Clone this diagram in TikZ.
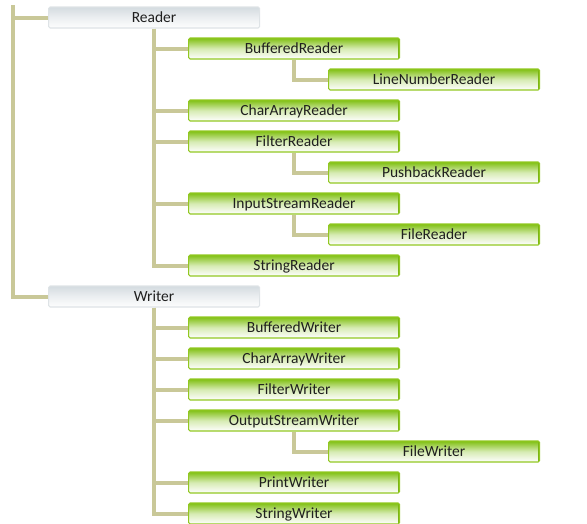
\documentclass[tikz,border=0pt]{standalone}
\usepackage{fontspec}
\setmainfont{Carlito}
\usetikzlibrary{backgrounds}
\definecolor{stem}{RGB}{201,200,152}
\definecolor{leafgreen}{RGB}{128,192,18}
\definecolor{leafedge}{RGB}{146,200,34}
\definecolor{leafside}{RGB}{124,182,20}
\definecolor{roottop}{RGB}{212,219,224}
\definecolor{rootedge}{RGB}{222,227,230}
\definecolor{rootside}{RGB}{200,206,210}
\tikzset{
  box/.style={rectangle, rounded corners=1.5pt, minimum width=211pt,
    minimum height=21pt, anchor=west, inner sep=0pt, line width=1.1pt,
    text depth=0pt, font=\fontsize{15.5}{17}\selectfont, text=black!88},
  leaf/.style={box, draw=leafedge, top color=leafgreen, bottom color=white,
    middle color=leafgreen!32!white,
    path picture={\draw[leafside, line width=3pt]
      (path picture bounding box.north east) -- (path picture bounding box.south east);}},
  rootbox/.style={box, draw=rootedge, top color=roottop, bottom color=white!96!roottop,
    middle color=roottop!45!white,
    path picture={\draw[rootside, line width=2pt]
      (path picture bounding box.north east) -- (path picture bounding box.south east);}},
  link/.style={draw=stem, line width=4pt}
}
\begin{document}
\begin{tikzpicture}[x=1pt, y=-1pt]
  \useasboundingbox (0,0) rectangle (587,523);

  % Reader hierarchy
  \node[rootbox] (reader) at (48,17.5) {Reader};
  \node[leaf] (bufreader)  at (188,48.5)  {BufferedReader};
  \node[leaf] (linereader) at (328,79.5)  {LineNumberReader};
  \node[leaf] (chreader)   at (188,110.5) {CharArrayReader};
  \node[leaf] (filreader)  at (188,141.5) {FilterReader};
  \node[leaf] (pushreader) at (328,172.5) {PushbackReader};
  \node[leaf] (isreader)   at (188,203.5) {InputStreamReader};
  \node[leaf] (filereader) at (328,234.5) {FileReader};
  \node[leaf] (strreader)  at (188,265.5) {StringReader};

  % Writer hierarchy
  \node[rootbox] (writer) at (48,296.5) {Writer};
  \node[leaf] (bufwriter)  at (188,327.5) {BufferedWriter};
  \node[leaf] (chwriter)   at (188,358.5) {CharArrayWriter};
  \node[leaf] (filwriter)  at (188,389.5) {FilterWriter};
  \node[leaf] (oswriter)   at (188,420.5) {OutputStreamWriter};
  \node[leaf] (filewriter) at (328,451.5) {FileWriter};
  \node[leaf] (prwriter)   at (188,482.5) {PrintWriter};
  \node[leaf] (strwriter)  at (188,513.5) {StringWriter};

  \coordinate (trunk) at (13,5);

  \begin{pgfonlayer}{background}
    % main trunk
    \draw[link] (trunk) |- (reader.west);
    \draw[link] (trunk) |- (writer.west);
    % Reader subclasses
    \foreach \c in {bufreader,chreader,filreader,isreader,strreader}
      \draw[link] (reader.south) |- (\c.west);
    \draw[link] (bufreader.south) |- (linereader.west);
    \draw[link] (filreader.south) |- (pushreader.west);
    \draw[link] (isreader.south) |- (filereader.west);
    % Writer subclasses
    \foreach \c in {bufwriter,chwriter,filwriter,oswriter,prwriter,strwriter}
      \draw[link] (writer.south) |- (\c.west);
    \draw[link] (oswriter.south) |- (filewriter.west);
  \end{pgfonlayer}
\end{tikzpicture}
\end{document}
